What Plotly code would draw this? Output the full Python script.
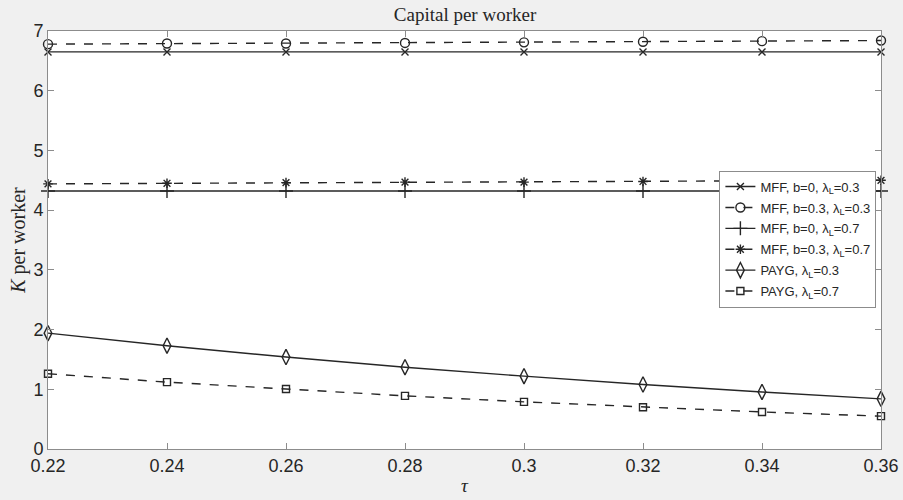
import plotly.graph_objects as go

tau = [0.22, 0.24, 0.26, 0.28, 0.30, 0.32, 0.34, 0.36]
mff_b0_l03 = [6.65, 6.65, 6.65, 6.65, 6.65, 6.65, 6.65, 6.65]
mff_b03_l03 = [6.78, 6.79, 6.79, 6.80, 6.81, 6.82, 6.83, 6.84]
mff_b0_l07 = [4.32, 4.32, 4.32, 4.32, 4.32, 4.32, 4.32, 4.32]
mff_b03_l07 = [4.44, 4.45, 4.46, 4.47, 4.47, 4.48, 4.49, 4.50]
payg_l03 = [1.94, 1.73, 1.54, 1.37, 1.22, 1.08, 0.955, 0.84]
payg_l07 = [1.26, 1.12, 1.005, 0.89, 0.79, 0.70, 0.62, 0.55]

names = ["MFF, b=0, λ<sub>L</sub>=0.3", "MFF, b=0.3, λ<sub>L</sub>=0.3",
         "MFF, b=0, λ<sub>L</sub>=0.7", "MFF, b=0.3, λ<sub>L</sub>=0.7",
         "PAYG, λ<sub>L</sub>=0.3", "PAYG, λ<sub>L</sub>=0.7"]
series = [mff_b0_l03, mff_b03_l03, mff_b0_l07, mff_b03_l07, payg_l03, payg_l07]
dashes = ["solid", "dash", "solid", "dash", "solid", "dash"]
symbols = ["x-thin-open", "circle-open", "cross-thin-open", "asterisk-open",
           "diamond-tall-open", "square-open"]
sizes = [7, 9, 10, 8, 11, 7]

LC = "#262626"
fig = go.Figure()
for i, (n, s, d, sym, sz) in enumerate(zip(names, series, dashes, symbols, sizes)):
    fig.add_trace(go.Scatter(
        x=tau, y=s, name=n, mode="lines+markers", legendgroup=str(i),
        line=dict(color=LC, width=1.4, dash=d),
        marker=dict(symbol=sym, size=sz, color=LC, line=dict(color=LC, width=1.4)),
        cliponaxis=False,
    ))

axis_common = dict(
    showline=True, linecolor="#8c8c8c", linewidth=1, mirror="ticks",
    ticks="inside", ticklen=6, tickcolor="#8c8c8c", showgrid=False, zeroline=False,
    automargin=False,
    tickfont=dict(family="Liberation Sans, Arial, sans-serif", size=18, color="#262626"),
)

fig.update_layout(
    width=903, height=500,
    paper_bgcolor="#f0f0f0", plot_bgcolor="white",
    margin=dict(l=48, r=22, t=31, b=51),
    title=dict(text="Capital per worker", x=0.515, xanchor="center", y=0.972, yanchor="middle",
               font=dict(family="Liberation Serif, Times New Roman, serif", size=19, color="#262626")),
    xaxis=dict(range=[0.22, 0.36], tickvals=tau,
               ticktext=["0.22", "0.24", "0.26", "0.28", "0.3", "0.32", "0.34", "0.36"],
               title=dict(text="<i>τ</i>", standoff=4,
                          font=dict(family="Liberation Serif, serif", size=19, color="#262626")),
               **axis_common),
    yaxis=dict(range=[0, 7], tickvals=[0, 1, 2, 3, 4, 5, 6, 7],
               title=dict(text="<i>K</i> per worker", standoff=2,
                          font=dict(family="Liberation Serif, serif", size=20, color="#262626")),
               **axis_common),
    legend=dict(x=0.806, y=0.666, xanchor="left", yanchor="top",
                bgcolor="white", bordercolor="#8c8c8c", borderwidth=1,
                font=dict(family="Liberation Sans, Arial, sans-serif", size=13, color="#262626"),
                itemwidth=30, tracegroupgap=1),
    showlegend=True,
)

fig.write_html("out.html", config={"displayModeBar": False},
               post_script="document.body.style.margin='0';document.body.style.overflow='hidden';")
